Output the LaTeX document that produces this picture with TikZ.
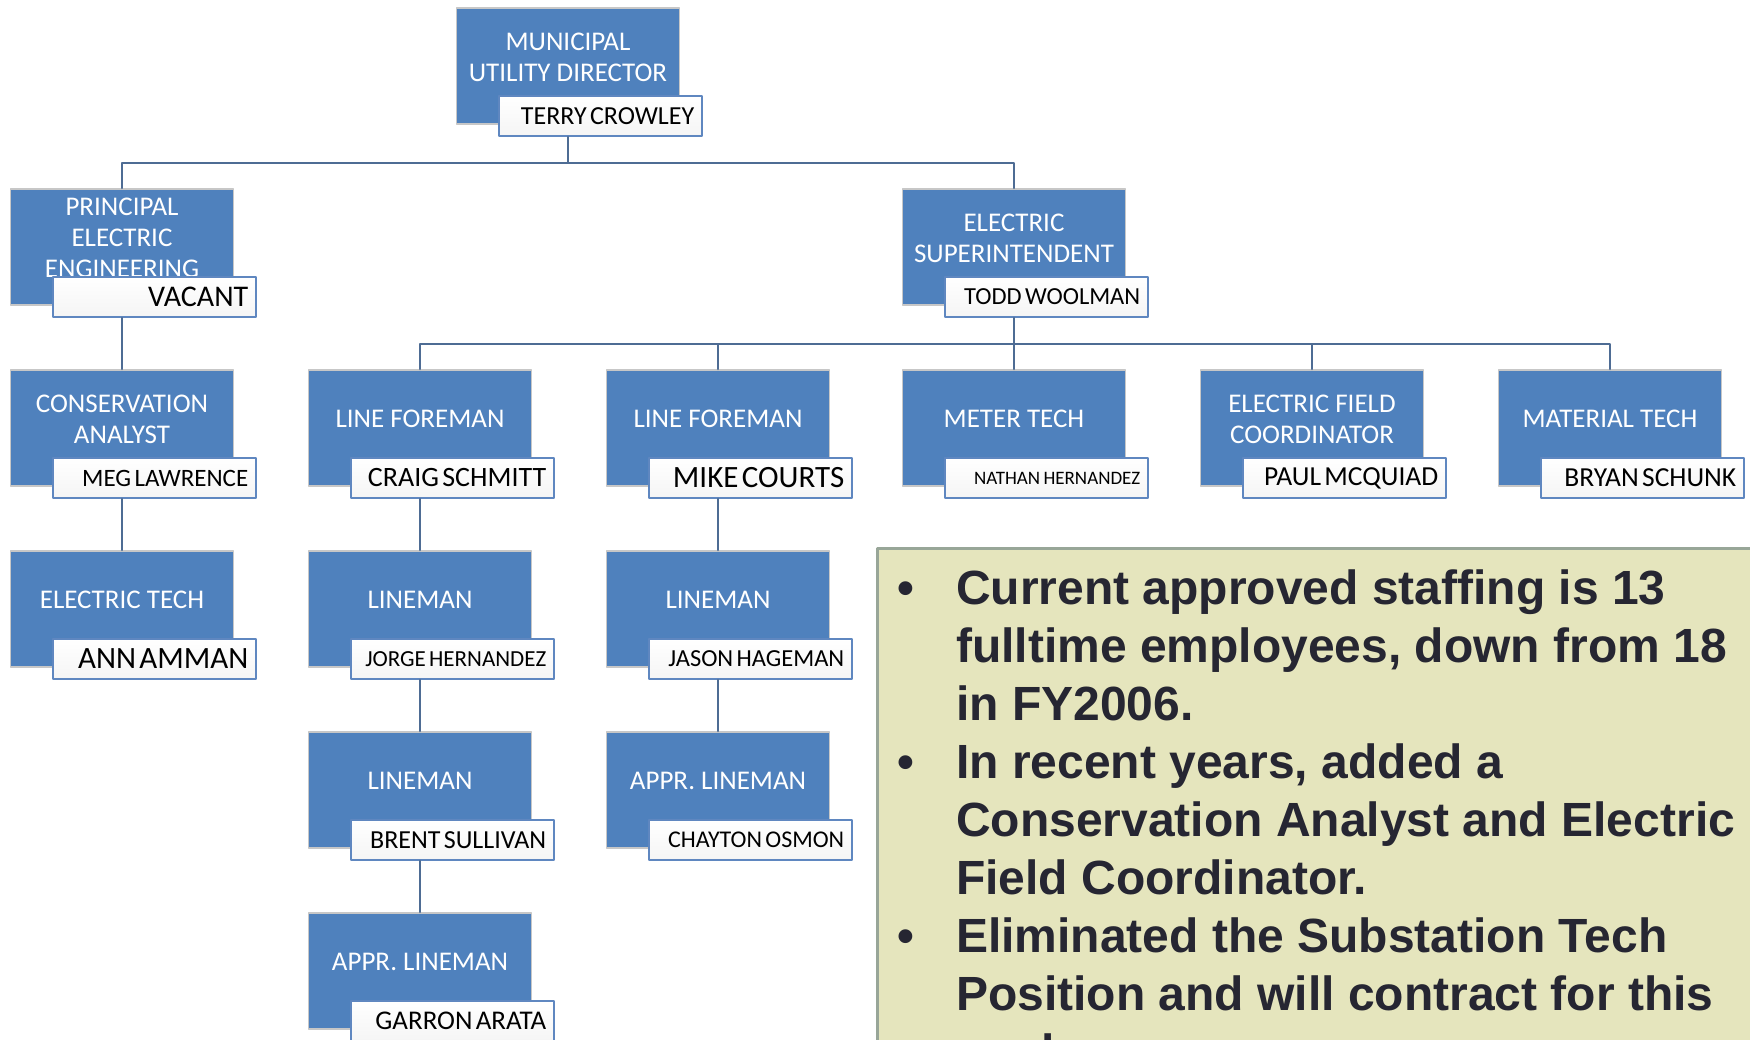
\documentclass[tikz,border=0pt]{standalone}
\usepackage{fontspec}
\setmainfont{Carlito}
\newfontfamily\notefont{Liberation Sans}
\usetikzlibrary{positioning}
\definecolor{boxblue}{RGB}{79,129,189}
\definecolor{nameedge}{RGB}{95,135,192}
\definecolor{linkblue}{RGB}{78,108,148}
\definecolor{notefill}{RGB}{229,229,189}
\definecolor{noteedge}{RGB}{152,166,152}
\definecolor{notetext}{RGB}{38,38,50}
\newcommand\orgpost[7]{%
	\node[postbox] (#1) at (#2,#3) {};
	\node[posttitle] (#1t) at ([yshift=-50pt]#1.north) {#4};
	\node[postname, anchor=north east] (#1n) at ([shift={(23pt,-88pt)}]#1.north east) {\fontsize{#6}{#6}\selectfont #7};
}
\begin{document}
\begin{tikzpicture}[x=1pt, y=-1pt, line join=round, line cap=round,
	postbox/.style={rectangle, anchor=north, fill=boxblue, draw=black!22, line width=1.5pt, minimum width=223pt, minimum height=116pt},
	posttitle/.style={text=white, align=center, inner sep=0pt, font=\fontsize{27}{31}\selectfont},
	postname/.style={rectangle, top color=white, bottom color=black!4, draw=nameedge, line width=2pt, minimum width=203pt, minimum height=40pt, text width=187pt, inner xsep=8pt, inner ysep=0pt, align=right},
	link/.style={linkblue, line width=2.5pt},
	notetxt/.style={anchor=base west, inner sep=0pt, text=notetext, font=\notefont\bfseries\fontsize{48}{58}\selectfont}]
	\useasboundingbox (0,0) rectangle (1750,1039);
	\clip (0,0) rectangle (1750,1039);
	\orgpost{dir}{568}{7}{MUNICIPAL\\UTILITY DIRECTOR}{}{26}{TERRY CROWLEY}
	\orgpost{pee}{122}{188}{PRINCIPAL\\ELECTRIC\\ENGINEERING}{}{30}{VACANT}
	\orgpost{sup}{1014}{188}{ELECTRIC\\SUPERINTENDENT}{}{24.5}{TODD WOOLMAN}
	\orgpost{con}{122}{369}{CONSERVATION\\ANALYST}{}{25}{MEG LAWRENCE}
	\orgpost{lfa}{420}{369}{LINE FOREMAN}{}{28}{CRAIG SCHMITT}
	\orgpost{lfb}{718}{369}{LINE FOREMAN}{}{31}{MIKE COURTS}
	\orgpost{met}{1014}{369}{METER TECH}{}{19}{NATHAN HERNANDEZ}
	\orgpost{efc}{1312}{369}{ELECTRIC FIELD\\COORDINATOR}{}{27.5}{PAUL MCQUIAD}
	\orgpost{mat}{1610}{369}{MATERIAL TECH}{}{27.5}{BRYAN SCHUNK}
	\orgpost{etc}{122}{550}{ELECTRIC TECH}{}{31}{ANN AMMAN}
	\orgpost{lma}{420}{550}{LINEMAN}{}{23}{JORGE HERNANDEZ}
	\orgpost{lmb}{718}{550}{LINEMAN}{}{24.5}{JASON HAGEMAN}
	\orgpost{lmc}{420}{731}{LINEMAN}{}{26}{BRENT SULLIVAN}
	\orgpost{apa}{718}{731}{APPR. LINEMAN}{}{24}{CHAYTON OSMON}
	\orgpost{apb}{420}{912}{APPR. LINEMAN}{}{27}{GARRON ARATA}
	\draw[link] (dirn.south -| dir.south) -- ++(0,26) coordinate (busa) -| (pee.north);
	\draw[link] (busa) -| (sup.north);
	\draw[link] (supn.south -| sup.south) -- ++(0,26) coordinate (busb) -| (lfa.north);
	\foreach \c in {lfb,met,efc,mat}\draw[link] (busb) -| (\c.north);
	\foreach \a/\b in {pee/con,con/etc,lfa/lma,lma/lmc,lmc/apb,lfb/lmb,lmb/apa}
		\draw[link] (\a n.south -| \a.south) -- (\b.north);
	\node[rectangle, anchor=north west, fill=notefill, draw=noteedge, line width=3pt, minimum width=950pt, minimum height=560pt] (note) at (876,547) {};
	\foreach \t [count=\i] in {Current approved staffing is 13, {fulltime employees, down from 18}, in FY2006., {In recent years, added a}, Conservation Analyst and Electric, Field Coordinator., Eliminated the Substation Tech, Position and will contract for this, work.}
		\node[notetxt] (line\i) at (956,546+58*\i) {\t};
	\foreach \i in {1,4,7}\node[notetxt, anchor=base] (dot\i) at (906,546+58*\i) {\textbullet};
\end{tikzpicture}
\end{document}
